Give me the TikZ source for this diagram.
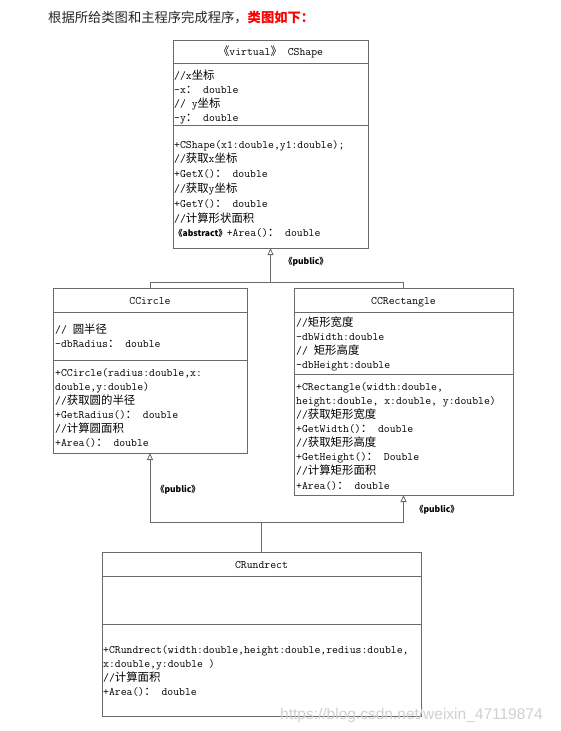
\documentclass[tikz,border=0pt]{standalone}
\usepackage{fontspec}
\newfontfamily\cjk{Noto Sans CJK SC}
\newfontfamily\wmfont{Liberation Sans}
\usetikzlibrary{arrows.meta}
\newcommand{\C}[1]{{\cjk #1}}
\newcommand{\mono}{\ttfamily\addfontfeatures{FakeBold=0.6}\fontsize{11.4}{14}\selectfont}
\newcommand{\stereo}[1]{{\cjk\bfseries\fontsize{8.5}{10}\selectfont 《#1》}}
\definecolor{lc}{HTML}{6A6A6A}
\begin{document}
\begin{tikzpicture}[x=1pt,y=-1pt,
  box/.style={draw=lc, line width=0.8pt, anchor=north west, inner sep=0pt, outer sep=0pt},
  ln/.style={anchor=base west, inner sep=0pt, font=\mono},
  hd/.style={anchor=base, inner sep=0pt, font=\mono},
  inh/.style={draw=lc, line width=0.8pt, -{Triangle[open, width=6pt, length=7pt]}},
  plain/.style={draw=lc, line width=0.8pt},
  sep/.style={draw=lc, line width=0.8pt},
  lbl/.style={inner sep=0pt}]
\fill[white] (0,0) rectangle (560,731);
\useasboundingbox (0,0) rectangle (560,731);

% title
\node[anchor=base west, inner sep=0pt, font=\cjk\fontsize{13.3}{16}\selectfont, text=black!85] (title) at (48,22)
  {根据所给类图和主程序完成程序，\textcolor{red}{\bfseries 类图如下：}};

% ---------- CShape ----------
\node[box, minimum width=195pt, minimum height=208pt] (cshape) at (173,40) {};
\draw[sep] (173,63) -- (368,63);
\draw[sep] (173,125) -- (368,125);
\node[hd] (cshapeH) at (270.5,55) {\C{《}virtual\C{》} CShape};
\foreach \t [count=\i from 0] in {{//x\C{坐标}},{-x\C{：} double},{// y\C{坐标}},{-y\C{：} double}}
  \node[ln] (csa\i) at (174,79+14.3*\i) {\t};
\foreach \t [count=\i from 0] in {{+CShape(x1:double,y1:double);},{//\C{获取}x\C{坐标}},{+GetX()\C{：} double},{//\C{获取}y\C{坐标}},{+GetY()\C{：} double},{//\C{计算形状面积}},{\stereo{abstract}+Area()\C{：} double}}
  \node[ln] (csm\i) at (174,148+14.8*\i) {\t};

% ---------- CCircle ----------
\node[box, minimum width=194pt, minimum height=165pt] (ccircle) at (53,288) {};
\draw[sep] (53,312) -- (247,312);
\draw[sep] (53,360) -- (247,360);
\node[hd] (ccircleH) at (150,304) {CCircle};
\foreach \t [count=\i from 0] in {{// \C{圆半径}},{-dbRadius\C{：} double}}
  \node[ln] (cca\i) at (55,333+14.5*\i) {\t};
\foreach \t [count=\i from 0] in {{+CCircle(radius:double,x:},{double,y:double)},{//\C{获取圆的半径}},{+GetRadius()\C{：} double},{//\C{计算圆面积}},{+Area()\C{：} double}}
  \node[ln] (ccm\i) at (55,376+14*\i) {\t};

% ---------- CCRectangle ----------
\node[box, minimum width=219pt, minimum height=207pt] (ccrect) at (294,288) {};
\draw[sep] (294,312) -- (513,312);
\draw[sep] (294,374) -- (513,374);
\node[hd] (ccrectH) at (403.5,304) {CCRectangle};
\foreach \t [count=\i from 0] in {{//\C{矩形宽度}},{-dbWidth:double},{// \C{矩形高度}},{-dbHeight:double}}
  \node[ln] (cra\i) at (296,326+14.3*\i) {\t};
\foreach \t [count=\i from 0] in {{+CRectangle(width:double,},{height:double, x:double, y:double)},{//\C{获取矩形宽度}},{+GetWidth()\C{：} double},{//\C{获取矩形高度}},{+GetHeight()\C{：} Double},{//\C{计算矩形面积}},{+Area()\C{：} double}}
  \node[ln] (crm\i) at (296,390+14.15*\i) {\t};

% ---------- CRundrect ----------
\node[box, minimum width=319pt, minimum height=164pt] (crund) at (102,552) {};
\draw[sep] (102,576) -- (421,576);
\draw[sep] (102,624) -- (421,624);
\node[hd] (crundH) at (261.5,568) {CRundrect};
\foreach \t [count=\i from 0] in {{+CRundrect(width:double,height:double,redius:double,},{x:double,y:double )},{//\C{计算面积}},{+Area()\C{：} double}}
  \node[ln] (rum\i) at (103,653+14.3*\i) {\t};

% ---------- inheritance ----------
\coordinate (j1) at (270.5,282);
\draw[inh] (ccircle.north) |- (j1) -- (cshape.south);
\draw[plain] (ccrect.north) |- (j1);
\coordinate (j2) at (261.5,522);
\draw[inh] (crund.north) -- (j2) -| (ccircle.south);
\draw[inh] (j2) -| (ccrect.south);

\node[lbl] (pub1) at (306,262) {\stereo{public}};
\node[lbl] (pub2) at (178,490) {\stereo{public}};
\node[lbl] (pub3) at (437,510) {\stereo{public}};

% watermark
\node[anchor=base west, inner sep=0pt, font=\wmfont\fontsize{15.5}{18}\selectfont, text=black!18] (wm) at (280,719)
  {https://blog.csdn.net/weixin\_47119874};
\end{tikzpicture}
\end{document}
